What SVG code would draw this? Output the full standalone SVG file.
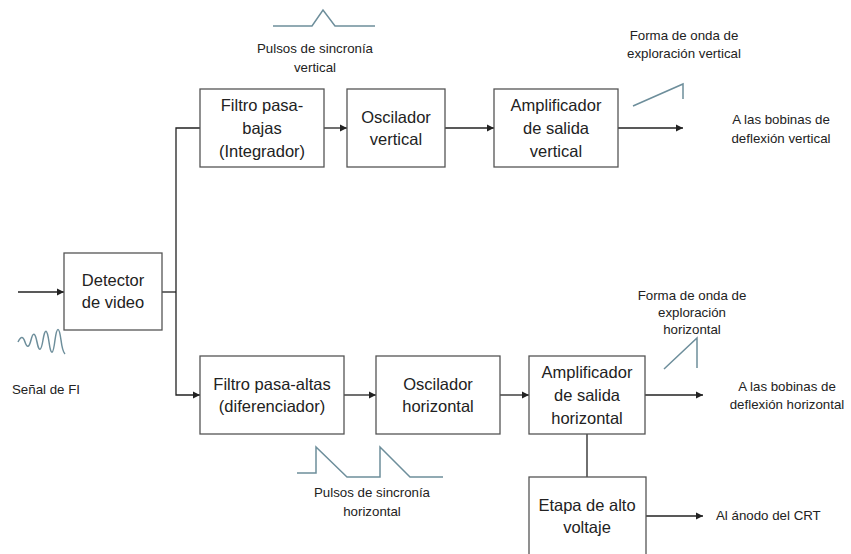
<svg xmlns="http://www.w3.org/2000/svg" width="851" height="554" viewBox="0 0 851 554">
<defs>
<marker id="ah" markerWidth="8" markerHeight="8" refX="7" refY="4" orient="auto" markerUnits="userSpaceOnUse">
<path d="M0,0.5 L7,4 L0,7.5 Z" fill="#222"/>
</marker>
<style>
.box{fill:#fff;stroke:#555;stroke-width:1.3}
.t{font-family:"Liberation Sans",Arial,sans-serif;font-size:16.5px;fill:#222;text-anchor:middle}
.s{font-family:"Liberation Sans",Arial,sans-serif;font-size:13.3px;fill:#222;text-anchor:middle}
.c{fill:none;stroke:#222;stroke-width:1.3}
.w{fill:none;stroke:#6d8e9b;stroke-width:1.5}
</style>
</defs>
<rect width="851" height="554" fill="#fff"/>
<g id="connectors">
<line class="c" x1="18" y1="292" x2="64" y2="292" marker-end="url(#ah)"/>
<line class="c" x1="162" y1="292" x2="176" y2="292"/>
<polyline class="c" points="200,128 176,128 176,395 200,395" marker-end="url(#ah)"/>
<line class="c" x1="324" y1="128" x2="347" y2="128" marker-end="url(#ah)"/>
<line class="c" x1="445" y1="128" x2="494" y2="128" marker-end="url(#ah)"/>
<line class="c" x1="618" y1="128" x2="683" y2="128" marker-end="url(#ah)"/>
<line class="c" x1="344" y1="395" x2="376" y2="395" marker-end="url(#ah)"/>
<line class="c" x1="500" y1="395" x2="529" y2="395" marker-end="url(#ah)"/>
<line class="c" x1="645" y1="395" x2="703" y2="395" marker-end="url(#ah)"/>
<line class="c" x1="587" y1="434" x2="587" y2="477"/>
<line class="c" x1="646" y1="516" x2="703" y2="516" marker-end="url(#ah)"/>
</g>
<g id="detector"><rect class="box" x="64" y="253" width="98" height="77"/><text class="t" x="113" y="286">Detector</text><text class="t" x="113" y="308">de video</text></g>
<g id="filtro-bajas"><rect class="box" x="200" y="89" width="124" height="78"/><text class="t" x="262" y="111">Filtro pasa-</text><text class="t" x="262" y="134">bajas</text><text class="t" x="262" y="157">(Integrador)</text></g>
<g id="osc-vertical"><rect class="box" x="347" y="89" width="98" height="78"/><text class="t" x="396" y="123">Oscilador</text><text class="t" x="396" y="145">vertical</text></g>
<g id="amp-vertical"><rect class="box" x="494" y="89" width="124" height="78"/><text class="t" x="556" y="111">Amplificador</text><text class="t" x="556" y="134">de salida</text><text class="t" x="556" y="157">vertical</text></g>
<g id="filtro-altas"><rect class="box" x="200" y="356" width="144" height="78"/><text class="t" x="272" y="390">Filtro pasa-altas</text><text class="t" x="272" y="412">(diferenciador)</text></g>
<g id="osc-horizontal"><rect class="box" x="376" y="356" width="124" height="78"/><text class="t" x="438" y="390">Oscilador</text><text class="t" x="438" y="412">horizontal</text></g>
<g id="amp-horizontal"><rect class="box" x="529" y="356" width="116" height="78"/><text class="t" x="587" y="378">Amplificador</text><text class="t" x="587" y="401">de salida</text><text class="t" x="587" y="424">horizontal</text></g>
<g id="alto-voltaje"><rect class="box" x="529" y="477" width="117" height="80"/><text class="t" x="587" y="511">Etapa de alto</text><text class="t" x="587" y="533">voltaje</text></g>
<g id="labels">
<path class="w" d="M18,342 C21,336 23,336 25,342 C27,348 29,348 31,340 C33,332 35,332 37,342 C39,352 41,352 43,340 C45,328 47,328 49,342 C51,356 53,356 55,340 C57,326 59,326 61,340 C62,348 63,352 65,354"/>
<text class="s" x="12" y="394" style="text-anchor:start">Señal de FI</text>
<polyline class="w" points="273,26 312,26 323,10 335,26 375,26"/>
<text class="s" x="315" y="53">Pulsos de sincronía</text>
<text class="s" x="315" y="72">vertical</text>
<polyline class="w" points="633,106 683,84 683,99"/>
<text class="s" x="684" y="40">Forma de onda de</text>
<text class="s" x="684" y="58">exploración vertical</text>
<text class="s" x="781" y="124">A las bobinas de</text>
<text class="s" x="781" y="143">deflexión vertical</text>
<polyline class="w" points="664,369 697,338 697,368"/>
<text class="s" x="692" y="300">Forma de onda de</text>
<text class="s" x="692" y="317">exploración</text>
<text class="s" x="692" y="334">horizontal</text>
<text class="s" x="787" y="391">A las bobinas de</text>
<text class="s" x="787" y="409">deflexión horizontal</text>
<polyline class="w" points="297,473 316,473 316,447 347,477 380,477 380,447 410,477 443,477"/>
<text class="s" x="372" y="497">Pulsos de sincronía</text>
<text class="s" x="372" y="516">horizontal</text>
<text class="s" x="716" y="520" style="text-anchor:start">Al ánodo del CRT</text>
</g>
</svg>
